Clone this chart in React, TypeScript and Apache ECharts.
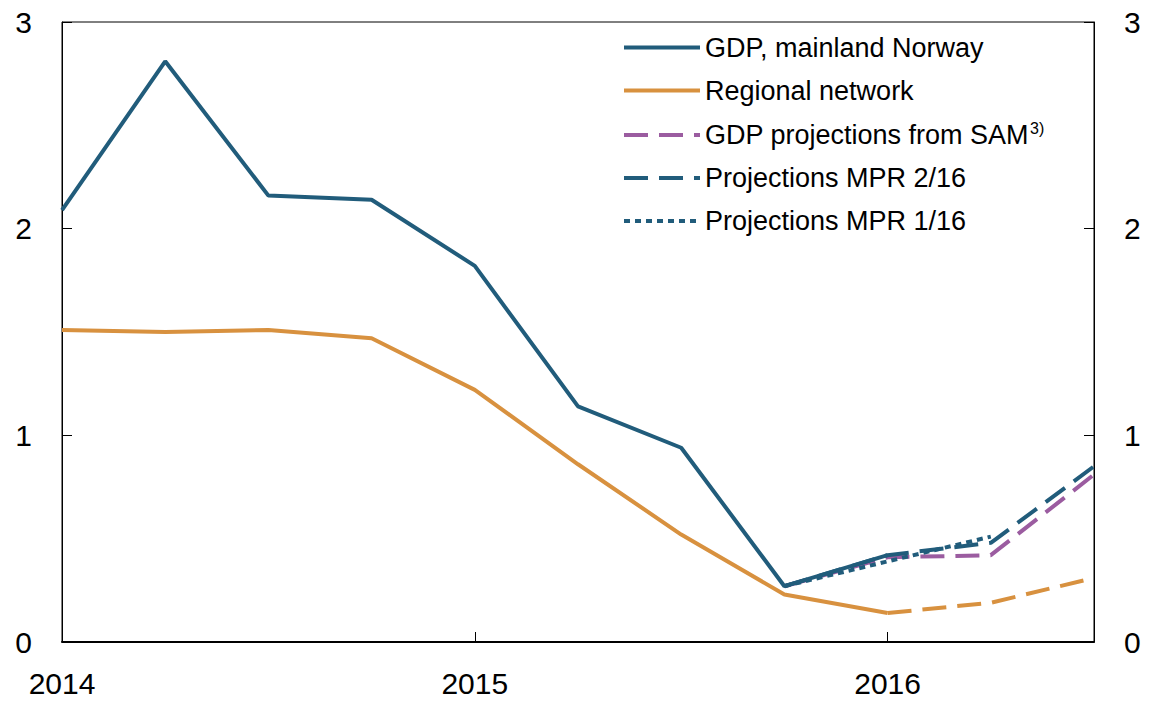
import React, { useEffect, useRef } from "react";
import * as echarts from "echarts";

const categories = [
  "2014 Q1", "2014 Q2", "2014 Q3", "2014 Q4",
  "2015 Q1", "2015 Q2", "2015 Q3", "2015 Q4",
  "2016 Q1", "2016 Q2", "2016 Q3",
];
const gdpMainland = [2.09, 2.81, 2.16, 2.14, 1.82, 1.14, 0.94, 0.27, 0.42, null, null];
const regionalNetwork = [1.51, 1.5, 1.51, 1.47, 1.22, 0.86, 0.52, 0.23, 0.14, null, null];
const regionalNetworkProj = [null, null, null, null, null, null, null, null, 0.14, 0.19, 0.31];
const samProjections = [null, null, null, null, null, null, null, 0.27, 0.41, 0.42, 0.81];
const mpr216 = [null, null, null, null, null, null, null, 0.27, 0.42, 0.48, 0.85];
const mpr116 = [null, null, null, null, null, null, null, 0.27, 0.39, 0.51, null];
const yTicks = [0, 1, 2, 3];

const BLUE = "#215c7b";
const ORANGE = "#d8913f";
const PURPLE = "#9b5ca0";
const FONT = "'Liberation Sans', Arial, Helvetica, sans-serif";

export default function App() {
  const ref = useRef<HTMLDivElement>(null);
  useEffect(() => {
    if (!ref.current) return;
    const chart = echarts.init(ref.current, undefined, { renderer: "svg" });
    const yAxisBase = (position: "left" | "right") => ({
      type: "value",
      position,
      min: yTicks[0],
      max: yTicks[yTicks.length - 1],
      interval: 1,
      axisLine: { show: true, lineStyle: { color: "#000", width: 1 } },
      axisTick: { show: true, inside: true, length: 10, lineStyle: { color: "#000", width: 1 } },
      axisLabel: { color: "#000", fontSize: 30, fontFamily: FONT, margin: 30 },
      splitLine: { show: false },
    });
    const lineSeries = (name: string, data: (number | null)[], color: string, type: any, width = 4) => ({
      name,
      type: "line",
      data,
      symbol: "none",
      showSymbol: false,
      connectNulls: false,
      lineStyle: { color, width, type },
      itemStyle: { color },
      emphasis: { disabled: true },
    });
    chart.setOption({
      animation: false,
      textStyle: { fontFamily: FONT },
      grid: {
        left: 62,
        right: 56,
        top: 22,
        bottom: 60,
        show: true,
        borderColor: "#000",
        borderWidth: 1,
        containLabel: false,
        outerBoundsMode: "none",
      },
      legend: {
        orient: "vertical",
        left: 617,
        top: 29,
        itemWidth: 76,
        itemHeight: 14,
        itemGap: 16,
        itemStyle: { opacity: 0 },
        lineStyle: { width: 4 },
        data: [
          "GDP, mainland Norway",
          "Regional network",
          "GDP projections from SAM",
          "Projections MPR 2/16",
          "Projections MPR 1/16",
        ],
        formatter: (name: string) =>
          name === "GDP projections from SAM" ? `{n|${name}}{s|3)}` : `{n|${name}}`,
        textStyle: {
          color: "#000",
          fontSize: 27,
          fontFamily: FONT,
          rich: {
            n: { fontSize: 27, fontFamily: FONT, color: "#000" },
            s: { fontSize: 16, fontFamily: FONT, color: "#000", padding: [0, 0, 14, 1] },
          },
        },
      },
      xAxis: {
        type: "category",
        data: categories,
        boundaryGap: false,
        axisLine: { show: true, lineStyle: { color: "#000", width: 2 } },
        axisTick: {
          show: true,
          inside: true,
          length: 10,
          interval: (i: number) => i % 4 === 0,
          lineStyle: { color: "#000", width: 1 },
        },
        axisLabel: {
          color: "#000",
          fontSize: 30,
          fontFamily: FONT,
          margin: 26,
          interval: (i: number) => i % 4 === 0,
          formatter: (v: string) => v.slice(0, 4),
        },
        splitLine: { show: false },
      },
      yAxis: [yAxisBase("left"), yAxisBase("right")],
      series: [
        lineSeries("Regional network", regionalNetwork, ORANGE, "solid"),
        lineSeries("Regional network projections", regionalNetworkProj, ORANGE, [24, 11]),
        lineSeries("GDP projections from SAM", samProjections, PURPLE, [24, 11]),
        lineSeries("Projections MPR 1/16", mpr116, BLUE, [6, 5]),
        lineSeries("Projections MPR 2/16", mpr216, BLUE, [24, 11]),
        lineSeries("GDP, mainland Norway", gdpMainland, BLUE, "solid"),
      ],
    });
    return () => chart.dispose();
  }, []);
  return (
    <div
      ref={ref}
      style={{ position: "fixed", left: 0, top: 0, width: 1150, height: 702, background: "#fff" }}
    />
  );
}
